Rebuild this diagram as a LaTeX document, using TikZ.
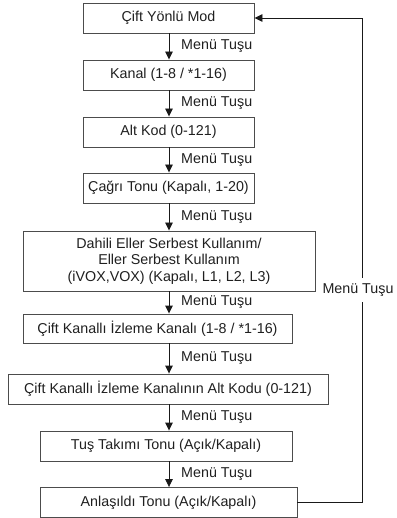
\documentclass[tikz,border=0pt]{standalone}
\usepackage{fontspec}
\setmainfont{Liberation Sans}
\usetikzlibrary{arrows.meta}
\begin{document}
\begin{tikzpicture}[x=1pt,y=-1pt,
  every node/.style={font=\fontsize{14.3pt}{16.5pt}\selectfont, text=black!88},
  box/.style={draw=black!70, line width=0.9pt, minimum height=30pt, inner sep=0pt, align=center},
  arr/.style={draw=black!90, line width=0.9pt, -{Triangle[length=8pt,width=7.5pt]}},
  lbl/.style={anchor=west, inner sep=0pt}]
\useasboundingbox (0,0) rectangle (396,518);
\node[box, minimum width=171pt] (b1) at (168.5,18) {Çift Yönlü Mod};
\node[box, minimum width=171pt] (b2) at (168.5,75) {Kanal (1-8 / *1-16)};
\node[box, minimum width=171pt] (b3) at (168.5,132) {Alt Kod (0-121)};
\node[box, minimum width=171pt] (b4) at (168.5,188) {Çağrı Tonu (Kapalı, 1-20)};
\node[box, minimum width=292pt, minimum height=60pt] (b5) at (169,261) {Dahili Eller Serbest Kullanım/\\Eller Serbest Kullanım\\(iVOX,VOX) (Kapalı, L1, L2, L3)};
\node[box, minimum width=269pt, minimum height=29pt] (b6) at (157.5,328.5) {Çift Kanallı İzleme Kanalı (1-8 / *1-16)};
\node[box, minimum width=320pt] (b7) at (168,389) {Çift Kanallı İzleme Kanalının Alt Kodu (0-121)};
\node[box, minimum width=252pt] (b8) at (166,446) {Tuş Takımı Tonu (Açık/Kapalı)};
\node[box, minimum width=257pt] (b9) at (168.5,502.5) {Anlaşıldı Tonu (Açık/Kapalı)};
\coordinate (ax) at (169,0);
\coordinate (fb) at (362,0);
\foreach \a/\b in {b1/b2,b2/b3,b3/b4,b4/b5,b5/b6,b6/b7,b7/b8,b8/b9}{
  \draw[arr] (\a.south -| ax) -- (\b.north -| ax);
  \path (\a.south -| ax) -- (\b.north -| ax) node[midway, lbl, xshift=12pt] (l\a) {Menü Tuşu};
}
\draw[arr] (b9.east) -- (b9.east -| fb) -- (b1.east -| fb) -- (b1.east);
\node[fill=white, inner xsep=0pt, inner ysep=6pt] (fl) at (358,290) {Menü Tuşu};
\end{tikzpicture}
\end{document}
